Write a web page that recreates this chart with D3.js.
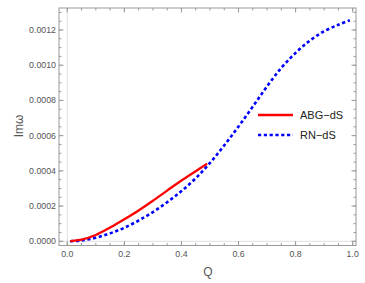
<!DOCTYPE html>
<html><head><meta charset="utf-8">
<script src="https://cdn.jsdelivr.net/npm/d3@7/dist/d3.min.js"></script>
<style>body{margin:0;background:#fff}svg{display:block}</style>
</head><body>
<svg id="c" width="365" height="283"></svg>
<script>
const qABG = [0.01,0.05,0.10,0.15,0.20,0.25,0.30,0.35,0.40,0.45,0.49];
const imABG = [0.000001,0.00001,0.000036,0.000078,0.000125,0.000175,0.00023,0.000288,0.000345,0.000398,0.00044];
const qRN = [0.01,0.05,0.10,0.15,0.20,0.25,0.30,0.35,0.40,0.45,0.50,0.55,0.60,0.65,0.70,0.75,0.80,0.85,0.90,0.95,0.99];
const imRN = [0.0000003,0.000005,0.00002,0.000045,0.000077,0.000118,0.000166,0.000222,0.000285,0.000358,0.000445,0.000545,0.000652,0.000765,0.00088,0.000985,0.00107,0.00114,0.001193,0.00123,0.001255];
const xTicks = [0,0.2,0.4,0.6,0.8,1.0];
const yTicks = [0,0.0002,0.0004,0.0006,0.0008,0.0010,0.0012];
const seriesNames = ["ABG\u2212dS","RN\u2212dS"];

const svg = d3.select("#c");
const L=59,R=356,T=8,B=245.5;
const x = d3.scaleLinear().domain([-0.029,1.0116]).range([L,R]);
const y = d3.scaleLinear().domain([-0.0000239,0.001325]).range([B,T]);
const frameCol="#9a9a9a", labCol="#555";

svg.append("line").attr("x1",x(0)).attr("x2",x(0)).attr("y1",T).attr("y2",B).attr("stroke","#e0e0e0").attr("stroke-width",1);
svg.append("line").attr("x1",L).attr("x2",R).attr("y1",y(0)).attr("y2",y(0)).attr("stroke","#e0e0e0").attr("stroke-width",1);

const xMinor = d3.range(0,1.0001,0.05);
const yMinor = d3.range(0,0.00132,0.00005);

const fr = svg.append("g");
function tickSet(vals, len){
  vals.forEach(v=>{
    const px=x(v);
    fr.append("line").attr("x1",px).attr("x2",px).attr("y1",B).attr("y2",B-len).attr("stroke",frameCol);
    fr.append("line").attr("x1",px).attr("x2",px).attr("y1",T).attr("y2",T+len).attr("stroke",frameCol);
  });
}
tickSet(xMinor,2.5); tickSet(xTicks,4.5);
function ytickSet(vals,len){
  vals.forEach(v=>{
    const py=y(v);
    fr.append("line").attr("x1",L).attr("x2",L+len).attr("y1",py).attr("y2",py).attr("stroke",frameCol);
    fr.append("line").attr("x1",R).attr("x2",R-len).attr("y1",py).attr("y2",py).attr("stroke",frameCol);
  });
}
ytickSet(yMinor,2.5); ytickSet(yTicks,4.5);
fr.append("rect").attr("x",L).attr("y",T).attr("width",R-L).attr("height",B-T).attr("fill","none").attr("stroke",frameCol).attr("stroke-width",1);

const font="'Liberation Sans', Arial, sans-serif";
xTicks.forEach(v=>{
  svg.append("text").attr("x",x(v)).attr("y",B+11).attr("text-anchor","middle")
   .attr("font-family",font).attr("font-size",8.8).attr("fill",labCol).text(v.toFixed(1));
});
yTicks.forEach(v=>{
  svg.append("text").attr("x",L-3).attr("y",y(v)+3).attr("text-anchor","end")
   .attr("font-family",font).attr("font-size",8.8).attr("fill",labCol).text(v.toFixed(4));
});
svg.append("text").attr("x",208).attr("y",276).attr("text-anchor","middle")
  .attr("font-family",font).attr("font-size",12).attr("fill",labCol).text("Q");
svg.append("text").attr("transform","translate(23,126) rotate(-90)").attr("text-anchor","middle")
  .attr("font-family",font).attr("font-size",12).attr("fill",labCol).text("Im\u03c9");

const line = d3.line().x(d=>x(d[0])).y(d=>y(d[1])).curve(d3.curveCatmullRom);
svg.append("path").datum(qRN.map((q,i)=>[q,imRN[i]])).attr("d",line)
  .attr("fill","none").attr("stroke","#0000ff").attr("stroke-width",2.6).attr("stroke-dasharray","3.2,2.6");
svg.append("path").datum(qABG.map((q,i)=>[q,imABG[i]])).attr("d",line)
  .attr("fill","none").attr("stroke","#ff0000").attr("stroke-width",2.3);

const lg = svg.append("g");
lg.append("line").attr("x1",258).attr("x2",293).attr("y1",115).attr("y2",115).attr("stroke","#ff0000").attr("stroke-width",2.3);
lg.append("line").attr("x1",258).attr("x2",293).attr("y1",135).attr("y2",135).attr("stroke","#0000ff").attr("stroke-width",2.6).attr("stroke-dasharray","3.2,2.6");
lg.append("text").attr("x",300).attr("y",119).attr("font-family",font).attr("font-size",11).attr("fill","#222").text(seriesNames[0]);
lg.append("text").attr("x",300).attr("y",139).attr("font-family",font).attr("font-size",11).attr("fill","#222").text(seriesNames[1]);
</script>
</body></html>
